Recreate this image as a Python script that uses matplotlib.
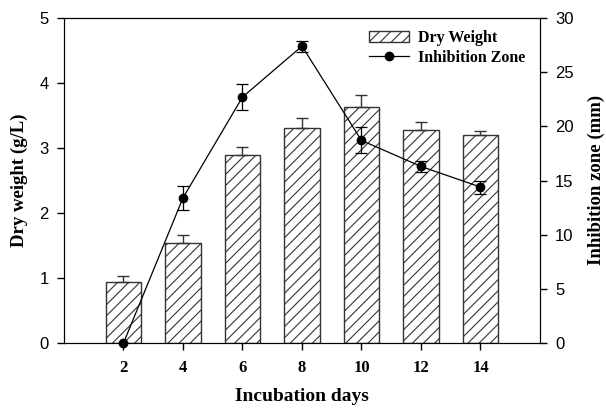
import numpy as np
import matplotlib
matplotlib.use('Agg')
import matplotlib.pyplot as plt
from matplotlib.lines import Line2D

days = [2, 4, 6, 8, 10, 12, 14]
dry_weight = [0.94, 1.54, 2.89, 3.31, 3.63, 3.28, 3.20]
dry_err = [0.09, 0.12, 0.13, 0.15, 0.19, 0.12, 0.06]
inhibition = [0.0, 13.4, 22.7, 27.4, 18.7, 16.3, 14.4]
inhib_err = [0.0, 1.1, 1.2, 0.5, 1.2, 0.5, 0.6]

serif = 'Liberation Serif'
sans = 'Liberation Sans'
plt.rcParams['hatch.linewidth'] = 0.8

fig = plt.figure(figsize=(6.06, 4.08), dpi=100)
ax = fig.add_axes([0.1056, 0.159, 0.7854, 0.797])
ax2 = ax.twinx()

bars = ax.bar(days, dry_weight, width=1.2, color='white', edgecolor='#333333',
              linewidth=1.0, hatch='///', label='Dry Weight', zorder=2)
ax.errorbar(days, dry_weight, yerr=[np.zeros(len(dry_err)), dry_err], fmt='none',
            ecolor='#333333', elinewidth=1.0, capsize=4, capthick=1.0, zorder=3)

line = ax2.errorbar(days, inhibition, yerr=inhib_err, fmt='-o', color='black',
                    markersize=6, linewidth=0.9, elinewidth=0.9, capsize=4,
                    capthick=0.9, zorder=4)
line[0].set_clip_on(False)

ax.set_xlim(0, 16)
ax.set_ylim(0, 5)
ax2.set_ylim(0, 30)
ax.set_xticks(days)
ax.set_xticklabels([str(d) for d in days], fontfamily=serif, fontweight='bold', fontsize=12)
ax.set_yticks(range(0, 6))
ax.set_yticklabels([str(v) for v in range(0, 6)], fontfamily=sans, fontsize=12)
ax2.set_yticks(range(0, 31, 5))
ax2.set_yticklabels([str(v) for v in range(0, 31, 5)], fontfamily=sans, fontsize=12)

for a in (ax, ax2):
    a.tick_params(direction='out', length=5, width=1.0, pad=6)
ax.tick_params(axis='x', pad=7)

ax.set_xlabel('Incubation days', fontfamily=serif, fontweight='bold', fontsize=14, labelpad=9)
ax.set_ylabel('Dry weight (g/L)', fontfamily=serif, fontweight='bold', fontsize=13.5)
ax2.set_ylabel('Inhibition zone (mm)', fontfamily=serif, fontweight='bold', fontsize=13.5)
ylab_y = (408 - 180) / 408
ax.yaxis.set_label_coords(28 / 606, ylab_y, transform=fig.transFigure)
ax2.yaxis.set_label_coords(588 / 606, ylab_y, transform=fig.transFigure)

line_handle = Line2D([], [], color='black', marker='o', markersize=6, linewidth=0.9)
leg = ax.legend([bars, line_handle], ['Dry Weight', 'Inhibition Zone'], loc='upper right',
                bbox_to_anchor=(0.995, 1.0), frameon=False, handlelength=2.5,
                prop={'family': serif, 'weight': 'bold', 'size': 11.5},
                labelspacing=0.25, borderaxespad=0.35, handletextpad=0.6)

fig.savefig('out.png', dpi=100)
